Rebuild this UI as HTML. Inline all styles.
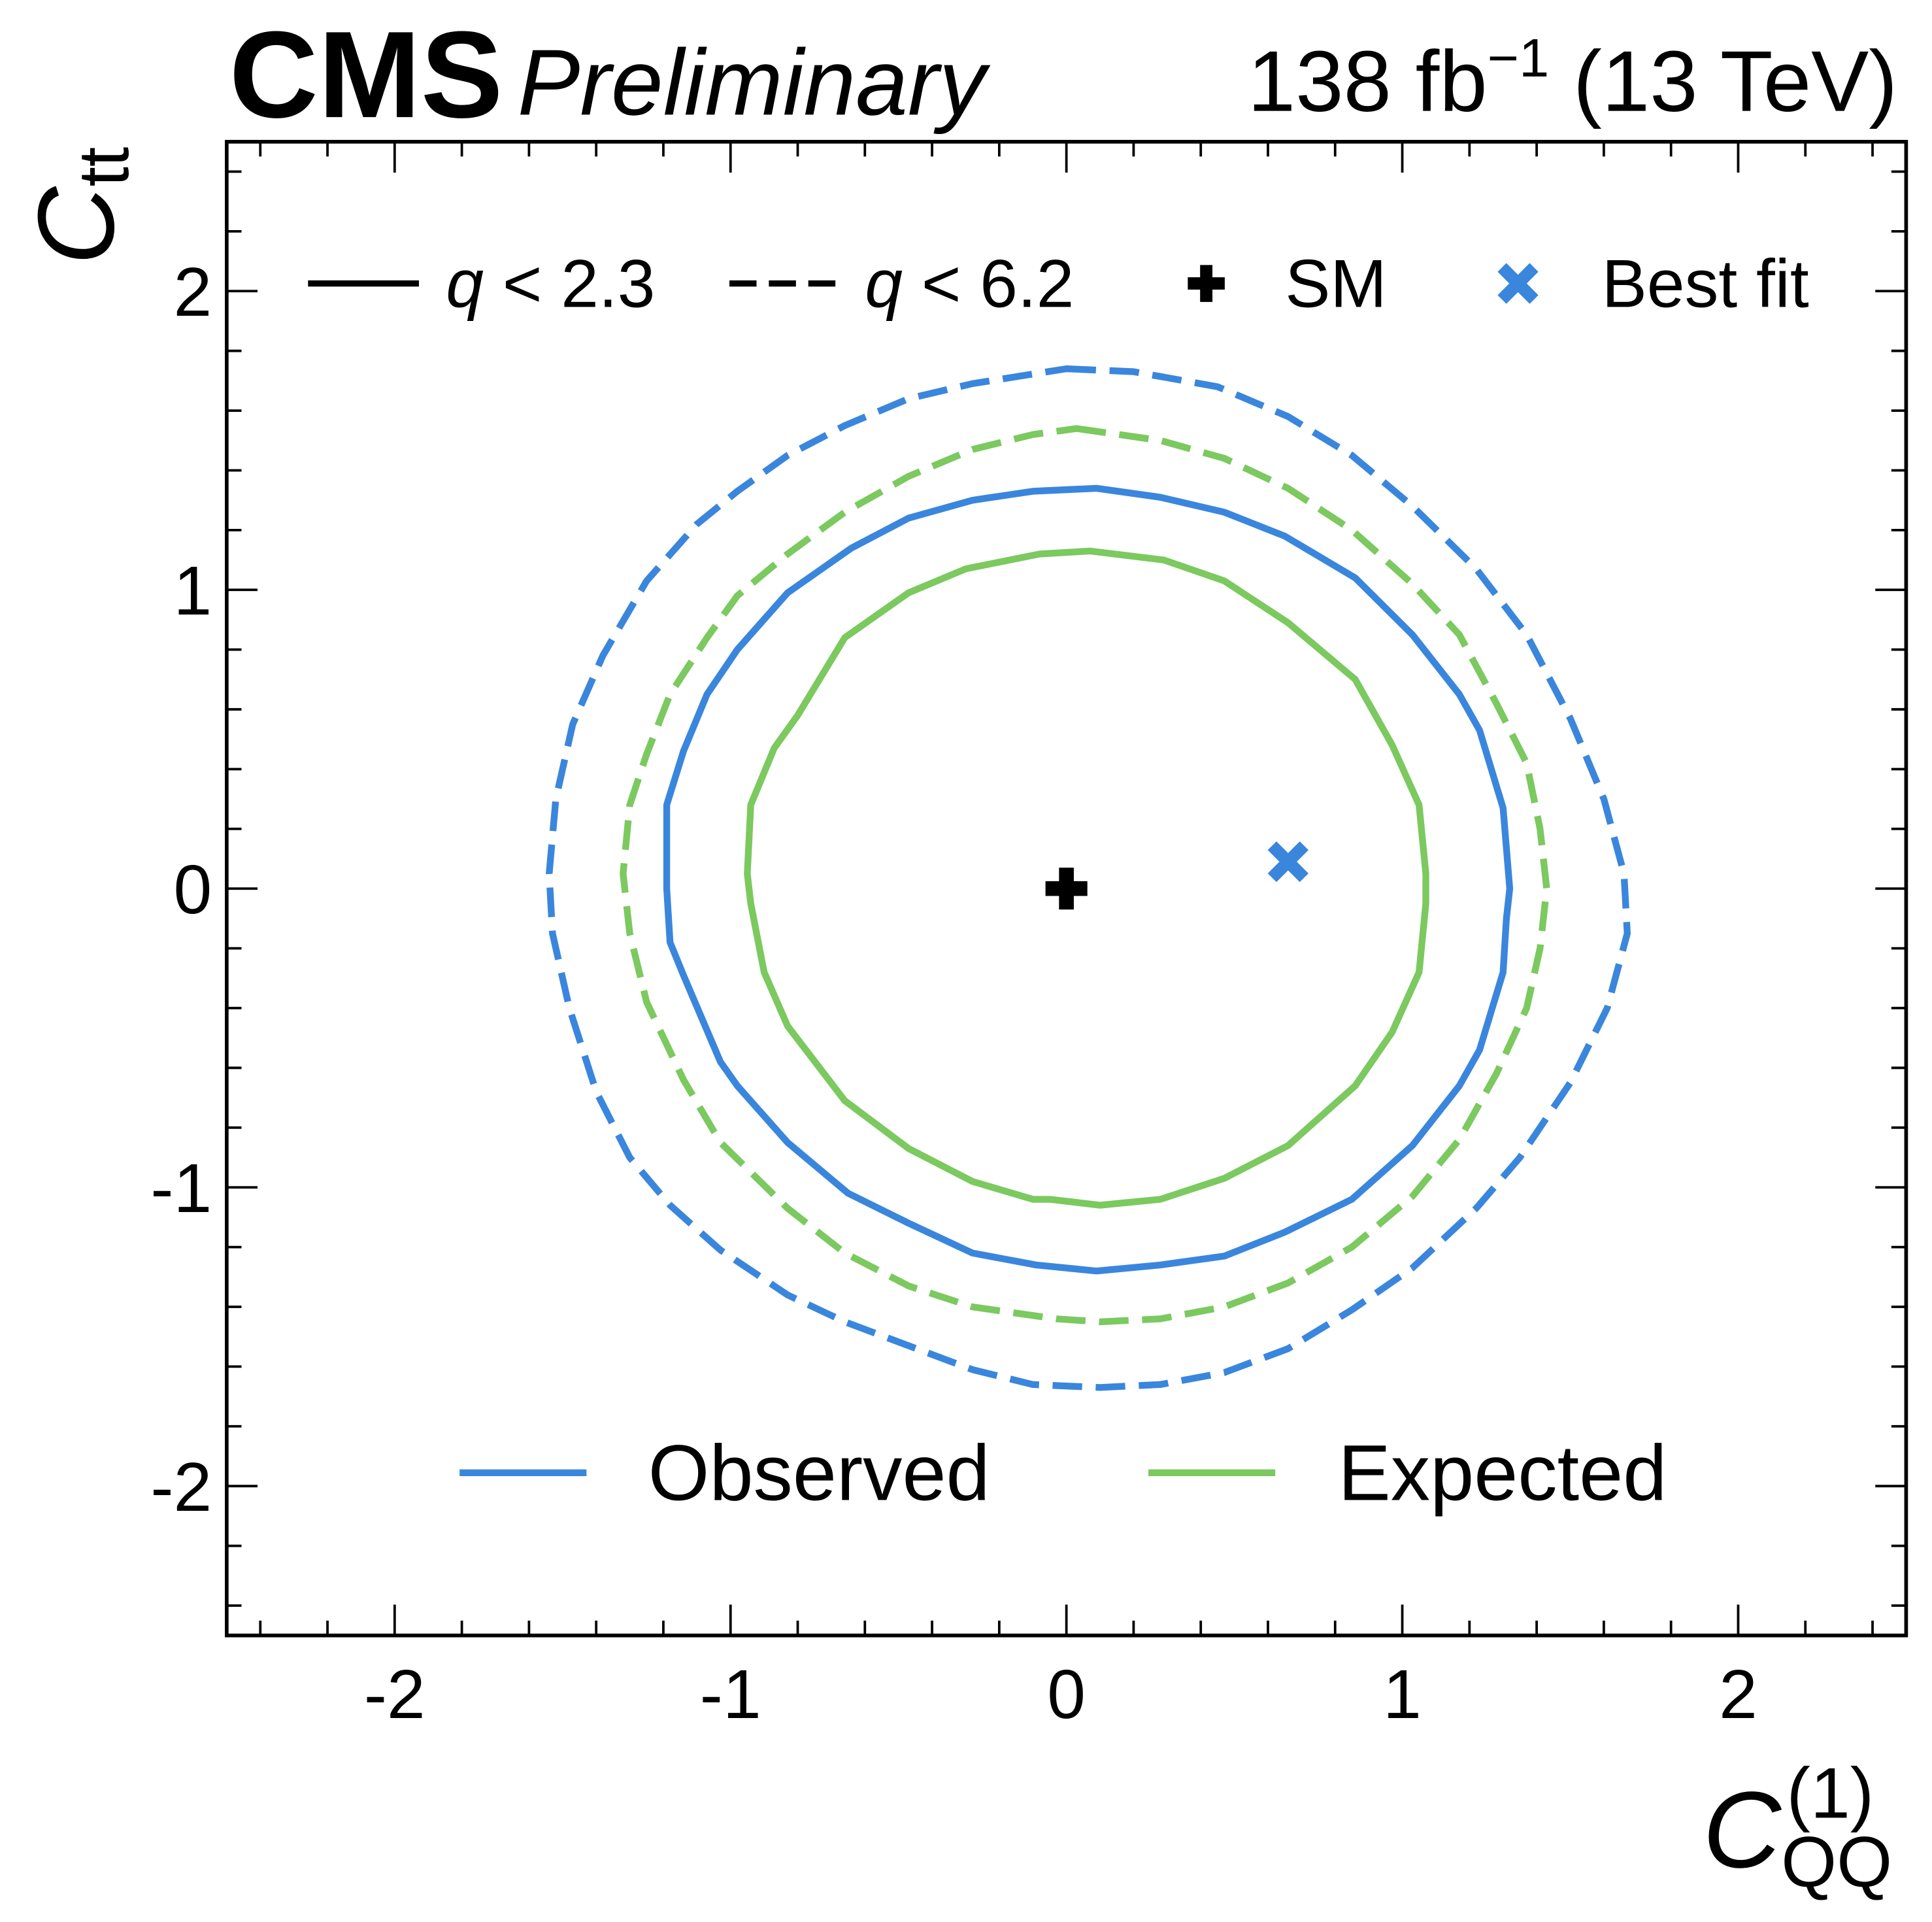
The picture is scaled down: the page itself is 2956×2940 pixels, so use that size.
<!DOCTYPE html>
<html><head><meta charset="utf-8"><style>
html,body{margin:0;padding:0;background:#fff;}
svg{display:block;font-family:"Liberation Sans",Arial,sans-serif;}
</style></head><body>
<svg id="chart" width="2956" height="2940" viewBox="0 0 1568 1559.5" xmlns="http://www.w3.org/2000/svg">
<rect x="0" y="0" width="1568" height="1559.5" fill="#fff"/>
<g id="marks"></g>
<rect x="184" y="115" width="1363" height="1212" fill="none" stroke="#000" stroke-width="3"/>
<g id="ticks"></g>
<text x="186" y="95" font-size="100" font-weight="bold">CMS</text>
<text x="420" y="93" font-size="76" font-style="italic">Preliminary</text>
<text x="1540" y="90" font-size="70" text-anchor="end">138 fb<tspan dy="-28" font-size="44">−1</tspan><tspan dy="28"> (13 TeV)</tspan></text>
<text transform="translate(92,215) rotate(-90)" font-size="88" font-style="italic">C<tspan font-size="58" font-style="normal" dy="12">tt</tspan></text>
<text x="1382" y="1515" font-size="88" font-style="italic">C<tspan font-size="58" font-style="normal" dy="16">QQ</tspan></text>
<text x="1450" y="1475" font-size="58">(1)</text>
<g>
<line x1="250" y1="230" x2="340" y2="230" stroke="#000" stroke-width="5"/>
<text x="362" y="249" font-size="55"><tspan font-style="italic">q</tspan> &lt; 2.3</text>
<line x1="592" y1="230" x2="682" y2="230" stroke="#000" stroke-width="5" stroke-dasharray="22 10"/>
<text x="702" y="249" font-size="55"><tspan font-style="italic">q</tspan> &lt; 6.2</text>
<path d="M964,230 h30 M979,215 v30" stroke="#000" stroke-width="10"/>
<text x="1043" y="249" font-size="55">SM</text>
<path d="M1219,217 l26,26 M1245,217 l-26,26" stroke="#3a86dd" stroke-width="10"/>
<text x="1300" y="249" font-size="55">Best fit</text>
</g>
<g>
<line x1="373" y1="1195" x2="476" y2="1195" stroke="#3a86dd" stroke-width="5.5"/>
<text x="526" y="1217" font-size="64">Observed</text>
<line x1="932" y1="1195" x2="1035" y2="1195" stroke="#7bc95f" stroke-width="5.5"/>
<text x="1086" y="1217" font-size="64">Expected</text>
</g>
</svg>
<script>
const obsSolidX=[-0.10,0.09,0.28,0.47,0.65,0.86,1.03,1.17,1.23,1.30,1.32,1.31,1.30,1.23,1.17,1.03,0.85,0.65,0.47,0.28,0.09,-0.09,-0.28,-0.47,-0.65,-0.83,-0.98,-1.03,-1.14,-1.18,-1.19,-1.19,-1.19,-1.14,-1.07,-0.98,-0.83,-0.64,-0.47,-0.28];
const obsSolidY=[1.33,1.34,1.31,1.26,1.18,1.04,0.85,0.65,0.53,0.27,0.0,-0.10,-0.28,-0.54,-0.66,-0.86,-1.04,-1.15,-1.23,-1.26,-1.28,-1.26,-1.22,-1.12,-1.02,-0.85,-0.66,-0.58,-0.29,-0.18,0,0.09,0.28,0.46,0.65,0.80,0.99,1.14,1.24,1.30];
const expSolidX=[-0.08,0.07,0.29,0.47,0.66,0.86,0.97,1.05,1.07,1.07,1.05,0.97,0.86,0.66,0.47,0.28,0.10,-0.05,-0.10,-0.28,-0.47,-0.66,-0.83,-0.90,-0.94,-0.95,-0.94,-0.87,-0.80,-0.66,-0.47,-0.30];
const expSolidY=[1.12,1.13,1.10,1.03,0.89,0.70,0.48,0.28,0.05,-0.05,-0.28,-0.48,-0.66,-0.86,-0.97,-1.04,-1.06,-1.04,-1.04,-0.98,-0.87,-0.71,-0.46,-0.28,-0.05,0.05,0.28,0.47,0.58,0.84,0.99,1.07];
const expDashX=[0.03,0.28,0.47,0.66,0.85,1.03,1.17,1.28,1.37,1.41,1.43,1.41,1.37,1.28,1.17,1.03,0.85,0.66,0.47,0.28,0.10,-0.03,-0.28,-0.47,-0.66,-0.83,-1.03,-1.14,-1.25,-1.30,-1.32,-1.30,-1.25,-1.18,-1.07,-0.98,-0.83,-0.66,-0.47,-0.28,-0.10];
const expDashY=[1.54,1.50,1.44,1.34,1.20,1.02,0.85,0.62,0.42,0.20,0.0,-0.20,-0.40,-0.62,-0.84,-1.03,-1.20,-1.32,-1.40,-1.44,-1.45,-1.44,-1.40,-1.33,-1.22,-1.07,-0.85,-0.64,-0.38,-0.15,0.05,0.28,0.45,0.65,0.84,0.98,1.12,1.26,1.38,1.47,1.52];
const obsDashX=[0.00,0.20,0.45,0.66,0.85,1.03,1.22,1.37,1.50,1.60,1.66,1.67,1.61,1.50,1.35,1.22,1.03,0.85,0.66,0.47,0.28,0.10,-0.10,-0.28,-0.47,-0.66,-0.83,-1.03,-1.18,-1.30,-1.40,-1.48,-1.53,-1.54,-1.52,-1.47,-1.38,-1.25,-1.10,-0.98,-0.83,-0.66,-0.47,-0.28];
const obsDashY=[1.74,1.73,1.68,1.58,1.45,1.28,1.07,0.85,0.57,0.30,0.05,-0.15,-0.40,-0.65,-0.90,-1.07,-1.27,-1.41,-1.54,-1.62,-1.66,-1.67,-1.66,-1.61,-1.53,-1.45,-1.36,-1.21,-1.06,-0.90,-0.68,-0.40,-0.15,0.05,0.30,0.55,0.78,1.03,1.22,1.33,1.45,1.55,1.64,1.69];
const smPoint=[0,0];
const bestFit=[0.66,0.09];
const xTicks=[-2,-1,0,1,2];
const yTicks=[-2,-1,0,1,2];
const xTickLabels=["-2","-1","0","1","2"];
const yTickLabels=["-2","-1","0","1","2"];

const X0=184,X1=1547,Y0=115,Y1=1327;
const sx=v=>X0+(v+2.5)/5*(X1-X0);
const sy=v=>Y1-(v+2.5)/5*(Y1-Y0);
const NS="http://www.w3.org/2000/svg";
const marks=document.getElementById('marks');
const ticks=document.getElementById('ticks');
function mk(tag,attrs,parent){const e=document.createElementNS(NS,tag);for(const k in attrs)e.setAttribute(k,attrs[k]);parent.appendChild(e);return e;}
function contour(xs,ys,color,dash,name){
  let d='';xs.forEach((x,i)=>{d+=(i?'L':'M')+sx(x).toFixed(1)+','+sy(ys[i]).toFixed(1);});d+='Z';
  const p=mk('path',{d:d,fill:'none',stroke:color,'stroke-width':5.5,'stroke-linejoin':'round'},marks);
  if(dash)p.setAttribute('stroke-dasharray','24 11');
  
  
}
contour(obsDashX,obsDashY,'#3a86dd',true,'observed-contour-6p2');
contour(expDashX,expDashY,'#7bc95f',true,'expected-contour-6p2');
contour(obsSolidX,obsSolidY,'#3a86dd',false,'observed-contour-2p3');
contour(expSolidX,expSolidY,'#7bc95f',false,'expected-contour-2p3');
const smx=sx(smPoint[0]),smy=sy(smPoint[1]);
const sm=mk('path',{d:`M${smx-17},${smy} h34 M${smx},${smy-17} v34`,stroke:'#000','stroke-width':12},marks);


const bx=sx(bestFit[0]),by=sy(bestFit[1]);
const bf=mk('path',{d:`M${bx-13},${by-13} l26,26 M${bx+13},${by-13} l-26,26`,stroke:'#3a86dd','stroke-width':10},marks);


for(let k=-24;k<=24;k+=2){
  const v=k/10;const major=Math.abs(k%10)===0;const L=major?25:12;
  const x=sx(v),y=sy(v);
  const t=mk('path',{d:`M${x},${Y1} v${-L} M${x},${Y0} v${L} M${X0},${y} h${L} M${X1},${y} h${-L}`,stroke:'#000','stroke-width':2},ticks);
  
  
}
xTicks.forEach((v,i)=>{
  const t=mk('text',{x:sx(v),y:1394,'font-size':56,'text-anchor':'middle'},ticks);t.textContent=xTickLabels[i];
  
  
});
yTicks.forEach((v,i)=>{
  const t=mk('text',{x:172,y:sy(v)+20,'font-size':56,'text-anchor':'end'},ticks);t.textContent=yTickLabels[i];
  
  
});
</script>
</body></html>
